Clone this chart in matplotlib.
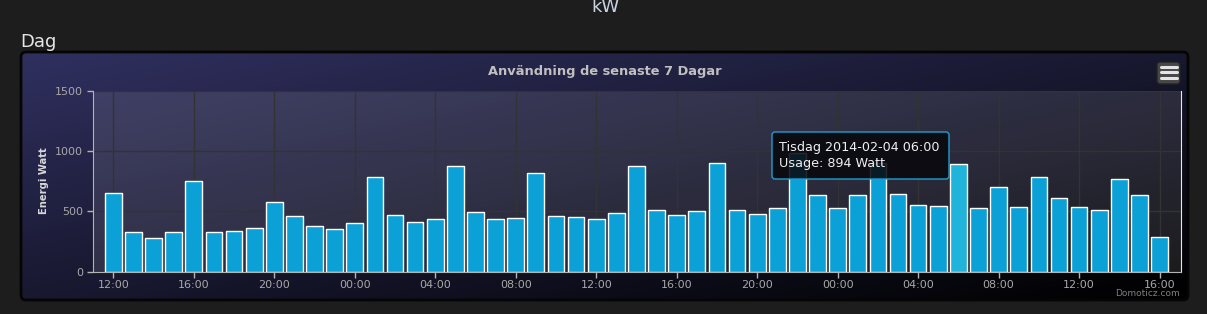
# Domoticz kW panel - usage over the last 7 days (hourly bars)

import numpy as np
import matplotlib.pyplot as plt
from matplotlib.patches import FancyBboxPatch

# hourly usage in Watt, first bar is 12:00, last bar is 16:00 two days later
usage = [649, 326, 276, 326, 749, 326, 334, 359, 575, 459, 376, 351,
         401, 782, 467, 409, 434, 873, 492, 434, 442, 815, 459, 450,
         434, 483, 873, 508, 467, 500, 898, 508, 475, 525, 981, 633,
         525, 633, 898, 641, 550, 541, 894, 525, 699, 533, 782, 608,
         533, 508, 765, 633, 285]
tick_labels = ['12:00', '16:00', '20:00', '00:00', '04:00', '08:00', '12:00',
               '16:00', '20:00', '00:00', '04:00', '08:00', '12:00', '16:00']
y_ticks = [0, 500, 1000, 1500]
highlight = 42
tooltip_date = 'Tisdag 2014-02-04 06:00'

W, H = 1207, 314
fig = plt.figure(figsize=(W / 100, H / 100), dpi=100, facecolor='#1d1d1d')

# background layer in pixel coordinates
bg = fig.add_axes([0, 0, 1, 1], zorder=0)
bg.set_xlim(0, W)
bg.set_ylim(H, 0)
bg.axis('off')

# panel with the highcharts dark-blue gradient
px0, py0, px1, py1 = 21, 52, 1188, 300
u = np.linspace(0, 1, 300)
v = np.linspace(0, 1, 120)
t = (u[None, :] + v[:, None]) / 2
c0 = np.array([48, 48, 96]) / 255
grad = (1 - t)[:, :, None] * c0[None, None, :]
panel = FancyBboxPatch((px0, py0), px1 - px0, py1 - py0,
                       boxstyle='round,pad=0,rounding_size=5',
                       facecolor='none', edgecolor='#050505', lw=2, zorder=2)
bg.add_patch(panel)
im = bg.imshow(grad, extent=(px0, px1, py1, py0), aspect='auto', zorder=1)
im.set_clip_path(panel)

bg.text(20, 47, 'Dag', fontsize=13, color='#e6e6e6', ha='left', va='baseline')
bg.text(605, 12, 'kW', fontsize=13, color='#c8d4e4', ha='center', va='baseline')
bg.text(605, 71, 'Användning de senaste 7 Dagar', fontsize=9.4, fontweight='bold',
        color='#c0c0c0', ha='center', va='center')
bg.text(44, 181, 'Energi Watt', fontsize=7.2, fontweight='bold', color='#d8d8d8',
        rotation=90, ha='center', va='center')
bg.text(1180, 293, 'Domoticz.com', fontsize=6.5, color='#808080', ha='right', va='center')

# context menu button
btn = FancyBboxPatch((1157, 62), 23, 22, boxstyle='round,pad=0,rounding_size=3',
                     facecolor='#474747', edgecolor='#222222', lw=1, zorder=3)
bg.add_patch(btn)
for yy in [67, 72.3, 77.6]:
    bg.plot([1160.5, 1176.5], [yy, yy], color='#e4e4e4', lw=2.2,
            solid_capstyle='round', zorder=4)

# main chart
x0, x1, yb, yt = 93, 1180.7, 271.7, 90.7
ax = fig.add_axes([x0 / W, 1 - yb / H, (x1 - x0) / W, (yb - yt) / H], zorder=1)
ax.set_facecolor((1, 1, 1, 0.1))

pos = np.arange(len(usage))
colors = ['#0ba1d6'] * len(usage)
colors[highlight] = '#20b4da'
ax.bar(pos, usage, width=0.83, color=colors, edgecolor='white', linewidth=1, zorder=3)

ax.set_xlim(-1.01, 53.05)
ax.set_ylim(0, 1500)
ax.set_xticks(pos[::4])
ax.set_xticklabels(tick_labels)
ax.set_yticks(y_ticks)
ax.grid(True, color='#333333', lw=1, zorder=0)
ax.set_axisbelow(True)
ax.spines['top'].set_visible(False)
ax.spines['left'].set_color('#b4b4b4')
ax.spines['bottom'].set_color('#b4b4b4')
ax.spines['right'].set_color('#e8e8e8')
ax.tick_params(axis='both', colors='#b4b4b4', labelcolor='#a8a8a8',
               labelsize=8, length=4, width=1)
ax.tick_params(axis='y', pad=3)
ax.tick_params(axis='x', pad=2)

# tooltip on top of everything
top = fig.add_axes([0, 0, 1, 1], zorder=5)
top.set_xlim(0, W)
top.set_ylim(H, 0)
top.axis('off')
tip = FancyBboxPatch((772, 132), 177, 47, boxstyle='round,pad=0,rounding_size=3',
                     facecolor=(0.03, 0.03, 0.05, 0.88), edgecolor='#1e9fcf', lw=1)
top.add_patch(tip)
top.text(779, 147, tooltip_date, fontsize=9.2, color='#f0f0f0', ha='left', va='center')
top.text(779, 164, f'Usage: {usage[highlight]} Watt', fontsize=9.2, color='#f0f0f0',
         ha='left', va='center')

fig.savefig('out.png', dpi=100, facecolor=fig.get_facecolor())
